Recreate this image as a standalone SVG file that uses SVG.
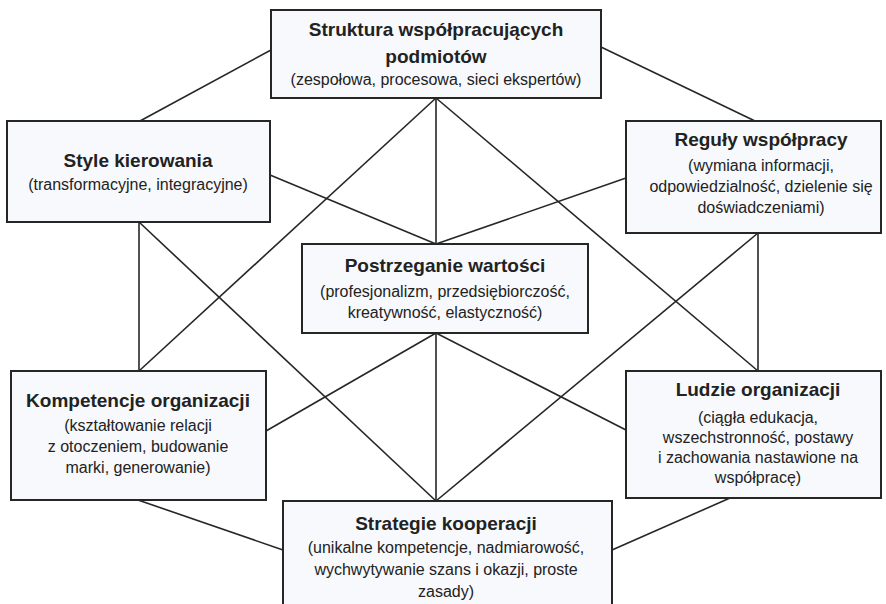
<svg xmlns="http://www.w3.org/2000/svg" width="886" height="604" viewBox="0 0 886 604">
<style>
.bg{fill:#ffffff}
.box{fill:#f7f9fc;stroke:#262626;stroke-width:2}
.ln{stroke:#262626;stroke-width:1.6;fill:none}
.t{font-family:"Liberation Sans",Arial,sans-serif;font-size:19px;font-weight:bold;fill:#222;text-anchor:middle}
.s{font-family:"Liberation Sans",Arial,sans-serif;font-size:16px;fill:#222;text-anchor:middle}
</style>
<rect class="bg" x="0" y="0" width="886" height="604"/>
<g id="connectors">
<line class="ln" x1="271" y1="50" x2="140" y2="121"/>
<line class="ln" x1="601" y1="47" x2="755" y2="121"/>
<line class="ln" x1="270" y1="175" x2="436" y2="244"/>
<line class="ln" x1="626" y1="178" x2="436" y2="244"/>
<line class="ln" x1="436" y1="98" x2="436" y2="244"/>
<line class="ln" x1="436" y1="98" x2="139" y2="371"/>
<line class="ln" x1="436" y1="98" x2="758" y2="371"/>
<line class="ln" x1="139" y1="222" x2="139" y2="371"/>
<line class="ln" x1="758" y1="233" x2="758" y2="371"/>
<line class="ln" x1="139" y1="222" x2="436" y2="501"/>
<line class="ln" x1="758" y1="233" x2="436" y2="501"/>
<line class="ln" x1="436" y1="333" x2="436" y2="501"/>
<line class="ln" x1="436" y1="333" x2="266" y2="431"/>
<line class="ln" x1="436" y1="333" x2="626" y2="430"/>
<line class="ln" x1="138" y1="500" x2="283" y2="550"/>
<line class="ln" x1="730" y1="498" x2="612" y2="550"/>
</g>
<g id="struktura">
<rect class="box" x="271" y="10" width="330" height="88"/>
<text class="t" x="436" y="36">Struktura współpracujących</text>
<text class="t" x="436" y="63">podmiotów</text>
<text class="s" x="436" y="85">(zespołowa, procesowa, sieci ekspertów)</text>
</g>
<g id="style">
<rect class="box" x="7" y="121" width="263" height="101"/>
<text class="t" x="138" y="167">Style kierowania</text>
<text class="s" x="138" y="190">(transformacyjne, integracyjne)</text>
</g>
<g id="reguly">
<rect class="box" x="626" y="121" width="255" height="112"/>
<text class="t" x="761" y="146">Reguły współpracy</text>
<text class="s" x="761" y="171">(wymiana informacji,</text>
<text class="s" x="761" y="192">odpowiedzialność, dzielenie się</text>
<text class="s" x="761" y="213">doświadczeniami)</text>
</g>
<g id="postrzeganie">
<rect class="box" x="302" y="244" width="286" height="89"/>
<text class="t" x="445" y="272">Postrzeganie wartości</text>
<text class="s" x="445" y="297">(profesjonalizm, przedsiębiorczość,</text>
<text class="s" x="445" y="318">kreatywność, elastyczność)</text>
</g>
<g id="kompetencje">
<rect class="box" x="11" y="371" width="255" height="129"/>
<text class="t" x="138" y="407">Kompetencje organizacji</text>
<text class="s" x="138" y="431">(kształtowanie relacji</text>
<text class="s" x="138" y="452">z otoczeniem, budowanie</text>
<text class="s" x="138" y="473">marki, generowanie)</text>
</g>
<g id="ludzie">
<rect class="box" x="626" y="371" width="255" height="127"/>
<text class="t" x="758" y="396">Ludzie organizacji</text>
<text class="s" x="758" y="423">(ciągła edukacja,</text>
<text class="s" x="758" y="443">wszechstronność, postawy</text>
<text class="s" x="758" y="463">i zachowania nastawione na</text>
<text class="s" x="758" y="483">współpracę)</text>
</g>
<g id="strategie">
<rect class="box" x="283" y="501" width="329" height="120"/>
<text class="t" x="446" y="530">Strategie kooperacji</text>
<text class="s" x="446" y="553">(unikalne kompetencje, nadmiarowość,</text>
<text class="s" x="446" y="575">wychwytywanie szans i okazji, proste</text>
<text class="s" x="446" y="597">zasady)</text>
</g>
</svg>
